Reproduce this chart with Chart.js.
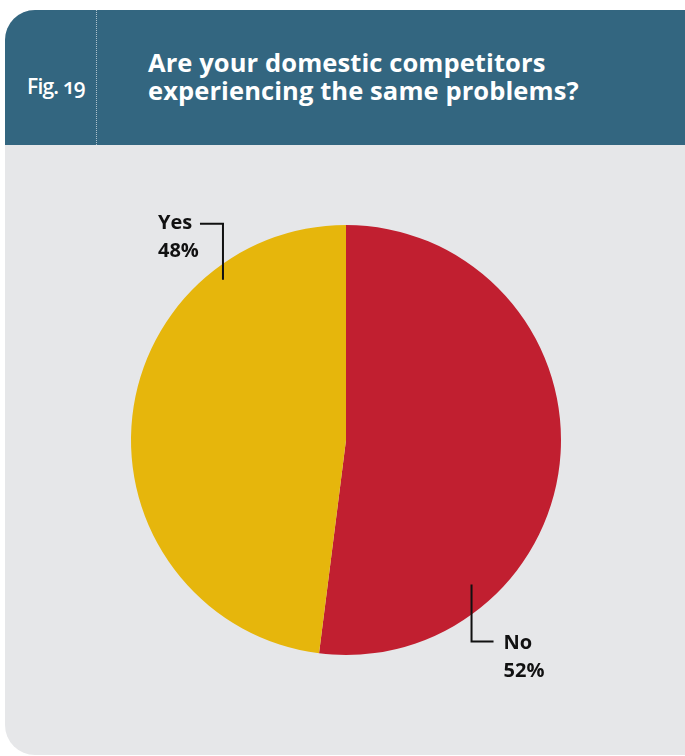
<!DOCTYPE html>
<html>
<head>
<meta charset="utf-8">
<script src="https://cdn.jsdelivr.net/npm/chart.js@4.4.0/dist/chart.umd.min.js"></script>
<style>
  html, body { margin: 0; padding: 0; background: #ffffff; }
  body { width: 685px; height: 756px; position: relative; overflow: hidden; font-family: "Open Sans", Lato, sans-serif; }
  .card {
    position: absolute; left: 5px; top: 10px; width: 710px; height: 745px;
    background: #e6e7e9; border-radius: 30px; overflow: hidden;
  }
  .head {
    position: absolute; left: 0; top: 0; right: 0; height: 135px;
    background: #336680; color: #ffffff;
  }
  .sep {
    position: absolute; left: 91px; top: 0; height: 135px;
    border-left: 1px dotted rgba(255,255,255,0.6);
  }
  .fig {
    position: absolute; left: 22px; top: 62px; font-size: 21px; font-weight: 600;
    letter-spacing: -0.8px; font-variant-numeric: oldstyle-nums;
  }
  .title {
    position: absolute; left: 143px; top: 38px; font-size: 25.5px; font-weight: 700;
    line-height: 28px; letter-spacing: 0.1px;
  }
  #wrap { position: absolute; left: 0; top: 135px; width: 680px; height: 611px; }
</style>
</head>
<body>
<div class="card">
  <div class="head">
    <div class="sep"></div>
    <div class="fig">Fig. 19</div>
    <div class="title">Are your domestic competitors<br>experiencing the same problems?</div>
  </div>
  <div id="wrap"><canvas id="pie" width="680" height="611"></canvas></div>
</div>
<script>
const labels = ['No', 'Yes'];
const values = [52, 48];
const colors = ['#c11f30', '#e6b60c'];

// leader lines: anchor given as angle (deg from top, clockwise) and fraction of radius,
// then a vertical run and a short elbow out to the label
const leaders = [
  { ang: 139, frac: 0.89, run: 57, side: 22, textDx: 10, textDy: 2 },
  { ang: -37.5, frac: 0.94, run: -56, side: -23, textDx: -42, textDy: 0 }
];

const leaderPlugin = {
  id: 'leaders',
  afterDatasetsDraw(chart) {
    const ctx = chart.ctx;
    const arcs = chart.getDatasetMeta(0).data;
    arcs.forEach((arc, i) => {
      const L = leaders[i];
      const a = L.ang * Math.PI / 180;
      const x0 = arc.x + Math.sin(a) * arc.outerRadius * L.frac;
      const y0 = arc.y - Math.cos(a) * arc.outerRadius * L.frac;
      const y1 = y0 + L.run;
      const x1 = x0 + L.side;
      ctx.save();
      ctx.strokeStyle = '#111111';
      ctx.lineWidth = 2;
      ctx.beginPath();
      ctx.moveTo(x0, y0);
      ctx.lineTo(x0, y1);
      ctx.lineTo(x1, y1);
      ctx.stroke();
      ctx.fillStyle = '#111111';
      ctx.font = '700 20px "Open Sans", Lato, sans-serif';
      ctx.textBaseline = 'middle';
      const tx = x1 + L.textDx;
      const ty = y1 + L.textDy;
      ctx.fillText(labels[i], tx, ty);
      ctx.fillText(values[i] + '%', tx, ty + 28);
      ctx.restore();
    });
  }
};

new Chart(document.getElementById('pie'), {
  type: 'pie',
  data: {
    labels,
    datasets: [{ data: values, backgroundColor: colors, borderWidth: 0 }]
  },
  options: {
    responsive: false,
    animation: false,
    layout: { padding: { top: 80, bottom: 101, left: 2, right: 0 } },
    plugins: { legend: { display: false }, tooltip: { enabled: false } }
  },
  plugins: [leaderPlugin]
});
</script>
</body>
</html>
